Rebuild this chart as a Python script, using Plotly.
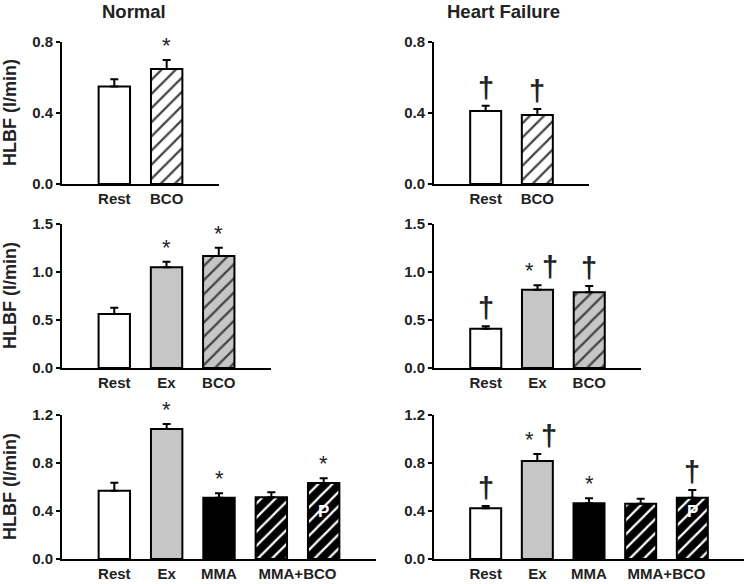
import plotly.graph_objects as go

# ---------------- data ----------------
top_labels = ["Rest", "BCO"]
normal_top_vals = [0.55, 0.648]
normal_top_err = [0.04, 0.05]
hf_top_vals = [0.411, 0.389]
hf_top_err = [0.03, 0.034]

mid_labels = ["Rest", "Ex", "BCO"]
normal_mid_vals = [0.562, 1.049, 1.167]
normal_mid_err = [0.066, 0.058, 0.086]
hf_mid_vals = [0.41, 0.816, 0.788]
hf_mid_err = [0.024, 0.045, 0.066]

bot_labels = ["Rest", "Ex", "MMA", "MMA+BCO"]
bot_label_pos = [0, 1, 2, 3.5]
normal_bot_vals = [0.569, 1.083, 0.511, 0.514, 0.633]
normal_bot_err = [0.067, 0.042, 0.036, 0.042, 0.039]
hf_bot_vals = [0.422, 0.817, 0.464, 0.461, 0.511]
hf_bot_err = [0.02, 0.058, 0.042, 0.042, 0.064]

# significance marks: (bar index, symbol)
normal_top_marks = [(1, "*")]
hf_top_marks = [(0, "†"), (1, "†")]
normal_mid_marks = [(1, "*"), (2, "*")]
hf_mid_marks = [(0, "†"), (1, "*†"), (2, "†")]
normal_bot_marks = [(1, "*"), (2, "*"), (4, "*")]
hf_bot_marks = [(0, "†"), (1, "*†"), (2, "*"), (4, "†")]

# ---------------- styling ----------------
W, H = 746, 584
FONT = "Liberation Sans, Arial, sans-serif"
GRAY = "#c6c6c6"
TXT = "#222"

top_style = [("white", ""), ("white", "/")]
mid_style = [("white", ""), (GRAY, ""), (GRAY, "/")]
bot_style = [("white", ""), (GRAY, ""), ("black", ""), ("black", "/"), ("black", "/")]

panels = [
    (normal_top_vals, normal_top_err, top_style, normal_top_marks, top_labels, [0, 1], 0.8, 0.4, (62, 219, 42, 184), True, False),
    (hf_top_vals, hf_top_err, top_style, hf_top_marks, top_labels, [0, 1], 0.8, 0.4, (434, 589, 42, 184), False, False),
    (normal_mid_vals, normal_mid_err, mid_style, normal_mid_marks, mid_labels, [0, 1, 2], 1.5, 0.5, (62, 271, 224, 368), True, False),
    (hf_mid_vals, hf_mid_err, mid_style, hf_mid_marks, mid_labels, [0, 1, 2], 1.5, 0.5, (434, 641, 224, 368), False, False),
    (normal_bot_vals, normal_bot_err, bot_style, normal_bot_marks, bot_labels, bot_label_pos, 1.2, 0.4, (62, 376, 415, 559), True, True),
    (hf_bot_vals, hf_bot_err, bot_style, hf_bot_marks, bot_labels, bot_label_pos, 1.2, 0.4, (434, 744, 415, 559), False, True),
]


def px_x(p):
    return p / W


def px_y(p):
    return 1 - p / H


fig = go.Figure()
annotations = []
layout = {}


def star(x, y, xr, yr, xshift=0):
    return dict(x=x, y=y, xref=xr, yref=yr, text="*", showarrow=False,
                yanchor="bottom", xshift=xshift, yshift=0,
                font=dict(family=FONT, size=22, color=TXT))


def dagger(x, y, xr, yr, xshift=0):
    return dict(x=x, y=y, xref=xr, yref=yr, text="†", showarrow=False,
                yanchor="bottom", xshift=xshift, yshift=0,
                font=dict(family=FONT, size=29, color=TXT, weight="bold"))


for i, (vals, err, style, marks, xl, xlp, ymax, dtick, box, ytitle, has_p) in enumerate(panels):
    n = len(vals)
    k = "" if i == 0 else str(i + 1)
    xs = list(range(n))
    fg = ["white" if c == "black" else "black" for c, _ in style]
    fig.add_trace(go.Bar(
        x=xs, y=vals, width=0.6,
        xaxis="x" + k, yaxis="y" + k,
        marker=dict(
            color=[c for c, _ in style],
            line=dict(color="black", width=2),
            pattern=dict(shape=[s for _, s in style], fgcolor=fg, fgopacity=1,
                         size=10, solidity=0.22, fillmode="overlay"),
        ),
        error_y=dict(type="data", symmetric=False, array=err,
                     arrayminus=[0] * n, color="black", thickness=2, width=4),
        showlegend=False, hoverinfo="skip",
    ))
    x0, x1, yt, yb = box
    layout["xaxis" + k] = dict(
        domain=[px_x(x0), px_x(x1)], range=[-1, n], anchor="y" + k,
        tickmode="array", tickvals=xlp, ticktext=xl,
        ticks="", showline=True, linecolor="black", linewidth=2,
        showgrid=False, zeroline=False, automargin=False,
        tickfont=dict(family=FONT, size=15, color=TXT, weight="bold"),
        fixedrange=True,
    )
    layout["yaxis" + k] = dict(
        domain=[px_y(yb), px_y(yt)], range=[0, ymax], anchor="x" + k,
        dtick=dtick, tick0=0, tickformat=".1f",
        ticks="outside", ticklen=4, tickwidth=2, tickcolor="black",
        showline=True, linecolor="black", linewidth=2,
        showgrid=False, zeroline=False, automargin=False,
        tickfont=dict(family=FONT, size=15, color=TXT, weight="bold"),
        fixedrange=True,
    )
    if ytitle:
        annotations.append(dict(x=px_x(10), y=px_y((yt + yb) / 2), xref="paper", yref="paper",
                                text="HLBF (l/min)", textangle=-90, showarrow=False,
                                xanchor="center", yanchor="middle",
                                font=dict(family=FONT, size=18, color=TXT, weight="bold")))
    for (bi, sym) in marks:
        top = vals[bi] + err[bi]
        if sym == "*":
            annotations.append(star(bi, top, "x" + k, "y" + k))
        elif sym == "†":
            annotations.append(dagger(bi, top, "x" + k, "y" + k))
        else:
            annotations.append(star(bi, top, "x" + k, "y" + k, xshift=-8))
            annotations.append(dagger(bi, top, "x" + k, "y" + k, xshift=12))
    if has_p:
        annotations.append(dict(x=n - 1, y=0.4, xref="x" + k, yref="y" + k,
                                text="P", showarrow=False,
                                font=dict(family=FONT, size=17, color="white", weight="bold")))

annotations.append(dict(x=px_x(134), y=px_y(11), xref="paper", yref="paper",
                        text="Normal", showarrow=False, yanchor="middle", xanchor="center",
                        font=dict(family=FONT, size=18.5, color=TXT, weight="bold")))
annotations.append(dict(x=px_x(503), y=px_y(11), xref="paper", yref="paper",
                        text="Heart Failure", showarrow=False, yanchor="middle", xanchor="center",
                        font=dict(family=FONT, size=18.5, color=TXT, weight="bold")))

fig.update_layout(
    width=W, height=H,
    margin=dict(l=0, r=0, t=0, b=0, autoexpand=False),
    paper_bgcolor="white", plot_bgcolor="white",
    annotations=annotations,
    **layout,
)

fig.write_html("out.html", config={"displayModeBar": False},
               post_script="document.body.style.margin='0';")
